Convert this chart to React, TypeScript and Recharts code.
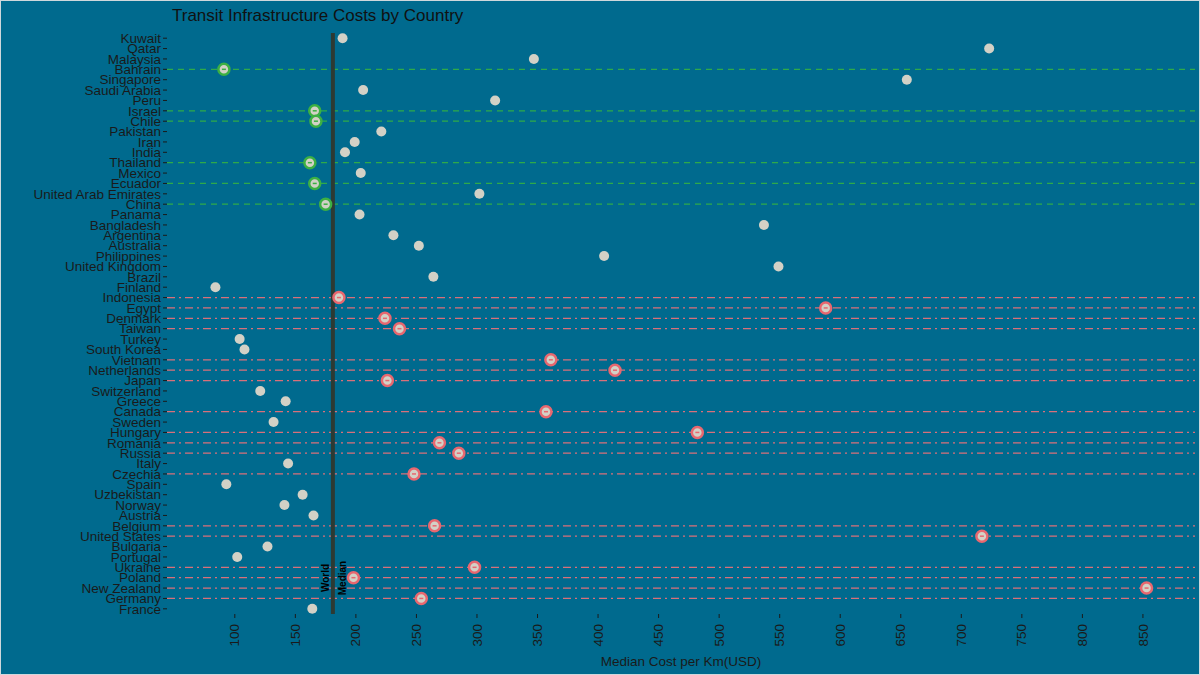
import { ScatterChart, Scatter, XAxis, YAxis, ReferenceLine } from 'recharts';

const countries = [
  'Kuwait', 'Qatar', 'Malaysia', 'Bahrain', 'Singapore', 'Saudi Arabia', 'Peru', 'Israel', 'Chile', 'Pakistan',
  'Iran', 'India', 'Thailand', 'Mexico', 'Ecuador', 'United Arab Emirates', 'China', 'Panama', 'Bangladesh', 'Argentina',
  'Australia', 'Philippines', 'United Kingdom', 'Brazil', 'Finland', 'Indonesia', 'Egypt', 'Denmark', 'Taiwan', 'Turkey',
  'South Korea', 'Vietnam', 'Netherlands', 'Japan', 'Switzerland', 'Greece', 'Canada', 'Sweden', 'Hungary', 'Romania',
  'Russia', 'Italy', 'Czechia', 'Spain', 'Uzbekistan', 'Norway', 'Austria', 'Belgium', 'United States', 'Bulgaria',
  'Portugal', 'Ukraine', 'Poland', 'New Zealand', 'Germany', 'France',
];

const costs = [
  189, 723, 347, 91, 655, 206, 315, 166, 167, 221,
  199, 191, 162, 204, 166, 302, 175, 203, 537, 231,
  252, 405, 549, 264, 84, 186, 588, 224, 236, 104,
  108, 361, 414, 226, 121, 142, 357, 132, 482, 269,
  285, 144, 248, 93, 156, 141, 165, 265, 717, 127,
  102, 298, 198, 853, 254, 164,
];

const greenCountries = ['Bahrain', 'Israel', 'Chile', 'Thailand', 'Ecuador', 'China'];
const redCountries = [
  'Indonesia', 'Egypt', 'Denmark', 'Taiwan', 'Vietnam', 'Netherlands', 'Japan', 'Canada', 'Hungary', 'Romania',
  'Russia', 'Czechia', 'Belgium', 'United States', 'Ukraine', 'Poland', 'New Zealand', 'Germany',
];

const xTicks = [100, 150, 200, 250, 300, 350, 400, 450, 500, 550, 600, 650, 700, 750, 800, 850];
const worldMedian = 181;

const data = countries.map((country, i) => ({
  country,
  cost: costs[i],
  group: greenCountries.includes(country) ? 'green' : redCountries.includes(country) ? 'red' : 'grey',
}));

const renderDot = (props: any) => {
  const { cx, cy, payload } = props;
  if (payload.group === 'grey') return <circle cx={cx} cy={cy} r={5} fill="#d3d1c6" />;
  const ring = payload.group === 'green' ? '#3cb043' : '#e8676f';
  return (
    <g>
      <circle cx={cx} cy={cy} r={5.5} fill="#d3d1c6" stroke={ring} strokeWidth={2.5} />
      <line x1={cx - 2} x2={cx + 2} y1={cy} y2={cy} stroke={ring} strokeWidth={1.5} />
    </g>
  );
};

const medianLabel = (props: any) => {
  const { viewBox } = props;
  const x = viewBox.x;
  const y = viewBox.y + viewBox.height - 36;
  return (
    <g fontSize={10} fontWeight="bold" fill="#000" fontFamily="Liberation Sans, Arial">
      <text transform={`translate(${x - 4},${y}) rotate(-90)`} textAnchor="middle">World</text>
      <text transform={`translate(${x + 13},${y}) rotate(-90)`} textAnchor="middle">Median</text>
    </g>
  );
};

export default function App() {
  return (
    <div style={{ position: 'fixed', left: 0, top: 0, width: 1200, height: 675, background: '#006a8e', boxSizing: 'border-box', border: '1px solid #cfd8dc', fontFamily: 'Liberation Sans, Arial, sans-serif' }}>
      <div style={{ position: 'absolute', left: 171, top: 5, fontSize: 17, color: '#111' }}>
        Transit Infrastructure Costs by Country
      </div>
      <ScatterChart width={1198} height={673} margin={{ top: 32, right: 4, bottom: 0, left: 0 }}>
        <XAxis
          type="number"
          dataKey="cost"
          domain={[44, 893]}
          ticks={xTicks}
          angle={-90}
          textAnchor="end"
          dx={-5}
          dy={4}
          height={60}
          axisLine={false}
          tick={{ fontSize: 13.5, fill: '#1a1a1a' }}
          tickLine={{ stroke: '#1a1a1a' }}
          tickSize={4}
          label={{ value: 'Median Cost per Km(USD)', position: 'insideBottom', offset: 8, fontSize: 13.5, fill: '#1a1a1a' }}
        />
        <YAxis
          type="category"
          dataKey="country"
          reversed
          width={166}
          interval={0}
          axisLine={false}
          tick={{ fontSize: 13.5, fill: '#1a1a1a' }}
          tickLine={{ stroke: '#1a1a1a' }}
          tickSize={4}
        />
        {greenCountries.map((c) => (
          <ReferenceLine key={c} y={c} stroke="#2eaa4a" strokeDasharray="6 5" strokeWidth={1.2} />
        ))}
        {redCountries.map((c) => (
          <ReferenceLine key={c} y={c} stroke="#d9707a" strokeDasharray="8 4 2 4" strokeWidth={1.2} />
        ))}
        <ReferenceLine x={worldMedian} stroke="#2d3a33" strokeWidth={4} label={medianLabel} />
        <Scatter data={data} shape={renderDot} isAnimationActive={false} />
      </ScatterChart>
    </div>
  );
}
